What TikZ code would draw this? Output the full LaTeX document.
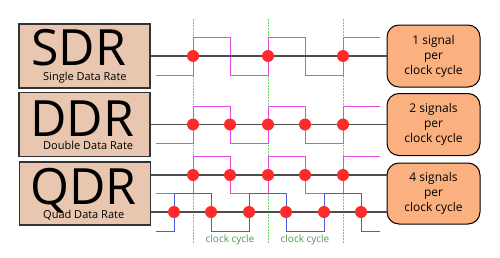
\documentclass[tikz,border=0pt]{standalone}
\usepackage{fontspec}
\setmainfont{Open Sans}
\usepackage{tikz}
\usetikzlibrary{positioning,calc}

\definecolor{tanbox}{HTML}{E9C6AF}
\definecolor{orangebox}{HTML}{FBB07F}
\definecolor{clkline}{HTML}{5FD85F}
\definecolor{clktext}{HTML}{4A9A4A}
\definecolor{sigpink}{HTML}{E448E4}
\definecolor{sigblue}{HTML}{4B5BE0}
\definecolor{dotred}{HTML}{FF2A2A}
\definecolor{wire}{HTML}{4D4D4D}

\begin{document}
\begin{tikzpicture}[
  x=1pt, y=-1pt,
  ratebox/.style={draw=black!80, line width=1.3pt, fill=tanbox,
    minimum width=131pt, minimum height=64pt, inner sep=0pt},
  infobox/.style={draw=black, line width=1pt, fill=orangebox,
    rounded corners=12pt, minimum width=93pt, minimum height=62pt,
    inner sep=0pt, align=center, font=\fontsize{12}{15}\selectfont},
  big/.style={anchor=base west, inner sep=0pt, font=\fontsize{50}{50}\selectfont},
  small/.style={anchor=base west, inner sep=0pt, font=\fontsize{11}{12}\selectfont},
  clock/.style={clkline, line width=0.8pt, dash pattern=on 2pt off 1pt},
  cyclabel/.style={clktext, font=\fontsize{10}{12}\selectfont},
  wave/.style={line width=0.9pt},
  bus/.style={wire, line width=1.5pt},
  dot/.style={circle, fill=dotred, inner sep=0pt, minimum size=12pt},
]
  \useasboundingbox (0,0) rectangle (500,257);

  % Clock edges
  \foreach \x in {193,268,343}
    \draw[clock] (\x,19) -- (\x,243);
  \node[cyclabel] (cyc1) at (230,240) {clock cycle};
  \node[cyclabel] (cyc2) at (305,240) {clock cycle};

  % Signals
  \draw[wave, sigpink] (156,75) -| (193,37) -| (230,75) -| (268,37)
    -| (305,75) -| (343,37) -- (380,37);
  \draw[wave, sigpink] (156,143) -| (193,106) -| (230,143) -| (268,106)
    -| (305,143) -| (343,106) -- (380,106);
  \draw[wave, sigpink] (156,193) -| (193,156) -| (230,193) -| (268,156)
    -| (305,193) -| (343,156) -- (380,156);
  \draw[wave, sigblue] (156,231) -| (174,193) -| (211,231) -| (249,193)
    -| (286,231) -| (324,193) -| (361,231) -- (380,231);

  % Rate boxes
  \node[ratebox] (sdr) at (84.5,56) {};
  \node[big] (sdrname) at (31,65) {SDR};
  \node[small] (sdrsub) at (43,80.5) {Single Data Rate};

  \node[ratebox] (ddr) at (84.5,124.5) {};
  \node[big] (ddrname) at (30,136) {DDR};
  \node[small] (ddrsub) at (43,149.5) {Double Data Rate};

  \node[ratebox, minimum height=63pt] (qdr) at (85,193.5) {};
  \node[big] (qdrname) at (30,204) {QDR};
  \node[small] (qdrsub) at (43,218) {Quad Data Rate};

  % Info boxes
  \node[infobox] (sdrinfo) at (433.5,56) {1 signal\\per\\clock cycle};
  \node[infobox] (ddrinfo) at (433.5,124.5) {2 signals\\per\\clock cycle};
  \node[infobox, minimum height=61pt] (qdrinfo) at (433.5,193.5) {4 signals\\per\\clock cycle};

  % Data lines
  \draw[bus] (sdr) -- (sdrinfo);
  \draw[bus] (ddr) -- (ddrinfo);
  \draw[bus] ([yshift=18.5pt]qdr.east) -- ([yshift=18.5pt]qdrinfo.west);
  \draw[bus] ([yshift=-18.5pt]qdr.east) -- ([yshift=-18.5pt]qdrinfo.west);

  % Sample points
  \foreach \x [count=\i] in {193,268,343}
    \node[dot] (sd\i) at (\x,56) {};
  \foreach \x [count=\i] in {193,230,268,305,343}
    \node[dot] (dd\i) at (\x,124.5) {};
  \foreach \x [count=\i] in {193,230,268,305,343}
    \node[dot] (qu\i) at (\x,175) {};
  \foreach \x [count=\i] in {174,211,249,286,324,361}
    \node[dot] (ql\i) at (\x,212) {};

\end{tikzpicture}
\end{document}
